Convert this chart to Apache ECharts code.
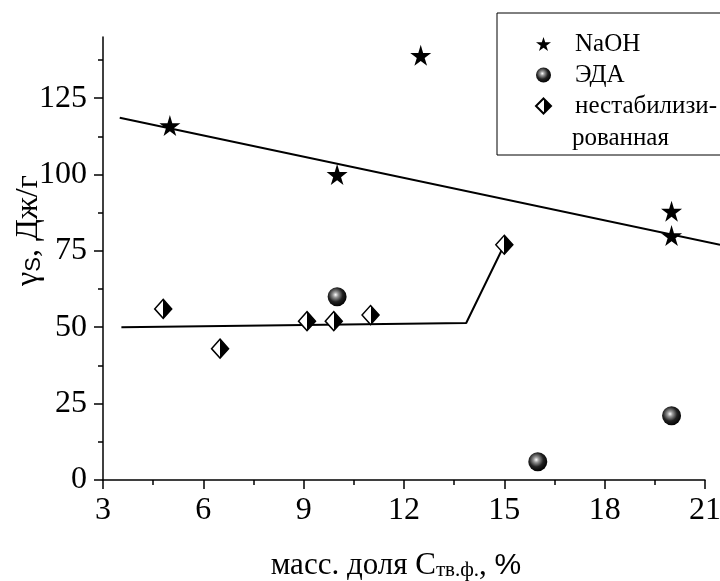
<!DOCTYPE html>
<html>
<head>
<meta charset="utf-8">
<script src="https://cdn.jsdelivr.net/npm/echarts@6/dist/echarts.min.js"></script>
<style>
  html, body { margin: 0; padding: 0; background: #fff; }
  #chart { width: 720px; height: 581px; }
</style>
</head>
<body>
<div id="chart"></div>
<script>
// точки (масс. доля, гамма)
var naohX = [5, 10, 12.5, 20, 20];
var naohY = [116, 100, 139, 88, 80];
var edaX = [10, 16, 20];
var edaY = [60, 6, 21];
var nestabX = [4.8, 6.5, 9.1, 9.9, 11, 15];
var nestabY = [56, 43, 52, 52, 54, 77];
// линии
var naohFitX = [3.5, 21.45];
var naohFitY = [118.6, 77.0];
var nestabFitX = [3.55, 13.86, 15];
var nestabFitY = [50, 51.4, 77];
// деления осей
var xTicks = [3, 6, 9, 12, 15, 18, 21];
var yTicks = [0, 25, 50, 75, 100, 125];
var yMinorTicks = [12.5, 37.5, 62.5, 87.5, 112.5, 137.5];

function pairs(xs, ys) {
  return xs.map(function (x, i) { return [x, ys[i]]; });
}

var serif = 'Liberation Serif';
var starPath = 'path://M50,0 L61,35 L98,35 L68,57 L79,91 L50,70 L21,91 L32,57 L2,35 L39,35 Z';

var sphere = {
  type: 'radial', x: 0.42, y: 0.4, r: 0.62,
  colorStops: [
    { offset: 0, color: '#ffffff' },
    { offset: 0.22, color: '#9a9a9a' },
    { offset: 0.6, color: '#222222' },
    { offset: 1, color: '#000000' }
  ]
};
var halfDiamond = {
  type: 'linear', x: 0, y: 0, x2: 1, y2: 0,
  colorStops: [
    { offset: 0, color: '#ffffff' },
    { offset: 0.5, color: '#ffffff' },
    { offset: 0.5, color: '#000000' },
    { offset: 1, color: '#000000' }
  ]
};

// вторая сетка до края картинки: линия NaOH выходит за ось
var plotLeft = 103, plotRight = 705, chartWidth = 720;
var xMin = 3, xMax = 21;
var xMaxWide = xMin + (xMax - xMin) * (chartWidth - plotLeft) / (plotRight - plotLeft);

var chart = echarts.init(document.getElementById('chart'));

var hidden = { show: false };

var option = {
  backgroundColor: '#fff',
  animation: false,
  textStyle: { fontFamily: serif, color: '#000' },
  grid: [
    { left: plotLeft, right: chartWidth - plotRight, top: 37, bottom: 101, containLabel: false, outerBoundsMode: 'none' },
    { left: plotLeft, right: 0, top: 37, bottom: 101, containLabel: false, outerBoundsMode: 'none' }
  ],
  legend: {
    left: 497,
    top: 13,
    orient: 'vertical',
    padding: [16, 30, 34, 38],
    itemGap: 1,
    itemWidth: 15,
    itemHeight: 15,
    borderColor: '#000',
    borderWidth: 1,
    backgroundColor: '#fff',
    textStyle: { fontFamily: serif, fontSize: 25, lineHeight: 30, color: '#000', padding: [0, 0, 0, 19] },
    data: ['NaOH', 'ЭДА', 'нестабилизи-']
  },
  graphic: [
    {
      type: 'text',
      left: 572,
      top: 126,
      z: 100,
      style: { text: 'рованная', font: '25px "Liberation Serif"', fill: '#000' }
    }
  ],
  xAxis: [
    {
      type: 'value',
      gridIndex: 0,
      min: xMin,
      max: xMax,
      interval: 3,
      name: 'масс. доля C{sub|тв.ф.}{n|, }{pc|%}',
      nameLocation: 'middle',
      nameGap: 70,
      nameMoveOverlap: false,
      nameTextStyle: {
        fontFamily: serif, fontSize: 31, color: '#000', padding: [0, 16, 0, 0],
        rich: {
          sub: { fontFamily: serif, fontSize: 21, verticalAlign: 'bottom', lineHeight: 16 },
          n: { fontFamily: serif, fontSize: 31 },
          pc: { fontFamily: 'Liberation Sans', fontSize: 30 }
        }
      },
      splitLine: hidden,
      axisLine: { lineStyle: { color: '#000', width: 1.5 } },
      axisTick: { length: 9, lineStyle: { color: '#000', width: 1.5 } },
      minorTick: { show: true, splitNumber: 2, length: 5, lineStyle: { color: '#000', width: 1.5 } },
      axisLabel: { fontFamily: serif, fontSize: 32, color: '#000', margin: 15 }
    },
    {
      type: 'value',
      gridIndex: 1,
      min: xMin,
      max: xMaxWide,
      show: false
    }
  ],
  yAxis: [
    {
      type: 'value',
      gridIndex: 0,
      min: 0,
      max: 145,
      interval: 25,
      name: 'γ{sub|S}, Дж/г',
      nameLocation: 'middle',
      nameGap: 58,
      nameMoveOverlap: false,
      nameTextStyle: {
        fontFamily: serif, fontSize: 32, color: '#000', padding: [0, 0, 0, 56],
        rich: {
          sub: { fontFamily: 'Liberation Sans', fontSize: 22, verticalAlign: 'bottom', lineHeight: 20 }
        }
      },
      splitLine: hidden,
      axisLine: { lineStyle: { color: '#000', width: 1.5 } },
      axisTick: { length: 9, customValues: yTicks, lineStyle: { color: '#000', width: 1.5 } },
      axisLabel: { fontFamily: serif, fontSize: 32, color: '#000', margin: 16, customValues: yTicks }
    },
    {
      type: 'value',
      gridIndex: 0,
      min: 0,
      max: 145,
      position: 'left',
      splitLine: hidden,
      axisLine: hidden,
      axisLabel: hidden,
      axisTick: { length: 5, customValues: yMinorTicks, lineStyle: { color: '#000', width: 1.5 } }
    },
    {
      type: 'value',
      gridIndex: 1,
      min: 0,
      max: 145,
      show: false
    }
  ],
  series: [
    {
      name: 'naohFit',
      type: 'line',
      xAxisIndex: 1,
      yAxisIndex: 2,
      data: pairs(naohFitX, naohFitY),
      symbol: 'none',
      z: 1,
      lineStyle: { color: '#000', width: 2 }
    },
    {
      name: 'nestabFit',
      type: 'line',
      data: pairs(nestabFitX, nestabFitY),
      symbol: 'none',
      z: 1,
      lineStyle: { color: '#000', width: 2 }
    },
    {
      name: 'NaOH',
      type: 'scatter',
      data: pairs(naohX, naohY),
      symbol: starPath,
      symbolSize: 21,
      z: 3,
      itemStyle: { color: '#000', opacity: 1 }
    },
    {
      name: 'ЭДА',
      type: 'scatter',
      data: pairs(edaX, edaY),
      symbol: 'circle',
      symbolSize: 19,
      z: 3,
      itemStyle: { color: sphere, opacity: 1 }
    },
    {
      name: 'нестабилизи-',
      type: 'scatter',
      data: pairs(nestabX, nestabY),
      symbol: 'diamond',
      symbolSize: [17, 19],
      z: 3,
      itemStyle: { color: halfDiamond, borderColor: '#000', borderWidth: 1.5, opacity: 1 }
    }
  ]
};

chart.setOption(option);
</script>
</body>
</html>
